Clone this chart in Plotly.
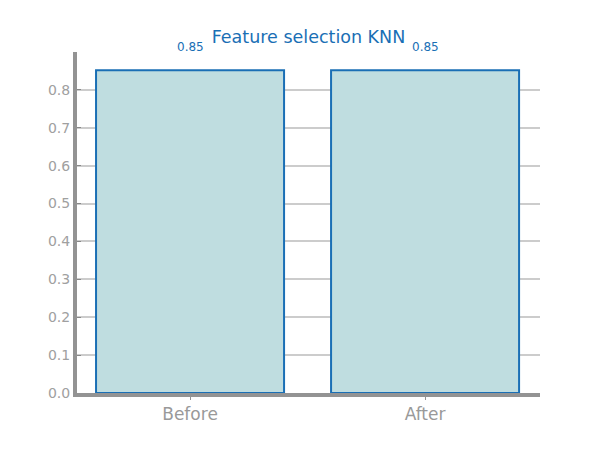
import plotly.graph_objects as go

categories = ["Before", "After"]
values = [0.852, 0.852]
labels = ["0.85", "0.85"]
y_ticks = [0.0, 0.1, 0.2, 0.3, 0.4, 0.5, 0.6, 0.7, 0.8]

fig = go.Figure()
fig.add_trace(go.Bar(
    x=categories, y=values, width=0.8,
    marker=dict(color="#bfdde0", line=dict(color="#1a6fb5", width=2)),
))
for c, v, t in zip(categories, values, labels):
    fig.add_annotation(x=c, y=v, text=t, showarrow=False, yshift=23,
                       font=dict(size=12, color="#1a6fb5", family="DejaVu Sans"))

fig.update_layout(
    width=600, height=450,
    margin=dict(l=77, r=60, t=52, b=57),
    plot_bgcolor="white", paper_bgcolor="white",
    showlegend=False,
    title=dict(text="Feature selection KNN", xref="paper", x=0.5, xanchor="center",
               y=1 - 37/450, yanchor="middle",
               font=dict(size=17.5, color="#1a6fb5", family="DejaVu Sans")),
    font=dict(family="DejaVu Sans", color="#999999"),
)
fig.update_xaxes(range=[-0.481, 1.489], showgrid=False, showline=True, linecolor="#939393", linewidth=4,
                 ticks="outside", ticklen=3, tickcolor="#939393", ticklabelstandoff=0,
                 tickfont=dict(size=17, color="#999999"))
fig.update_yaxes(range=[0, 0.9], tickvals=y_ticks, ticktext=[f"{v:.1f}" for v in y_ticks],
                 showgrid=True, gridcolor="#cccccc", gridwidth=2,
                 showline=True, linecolor="#939393", linewidth=4, zeroline=False,
                 ticks="inside", ticklen=4, tickcolor="#888888",
                 tickfont=dict(size=14, color="#a0a0a0"))

fig.write_html("out.html")
